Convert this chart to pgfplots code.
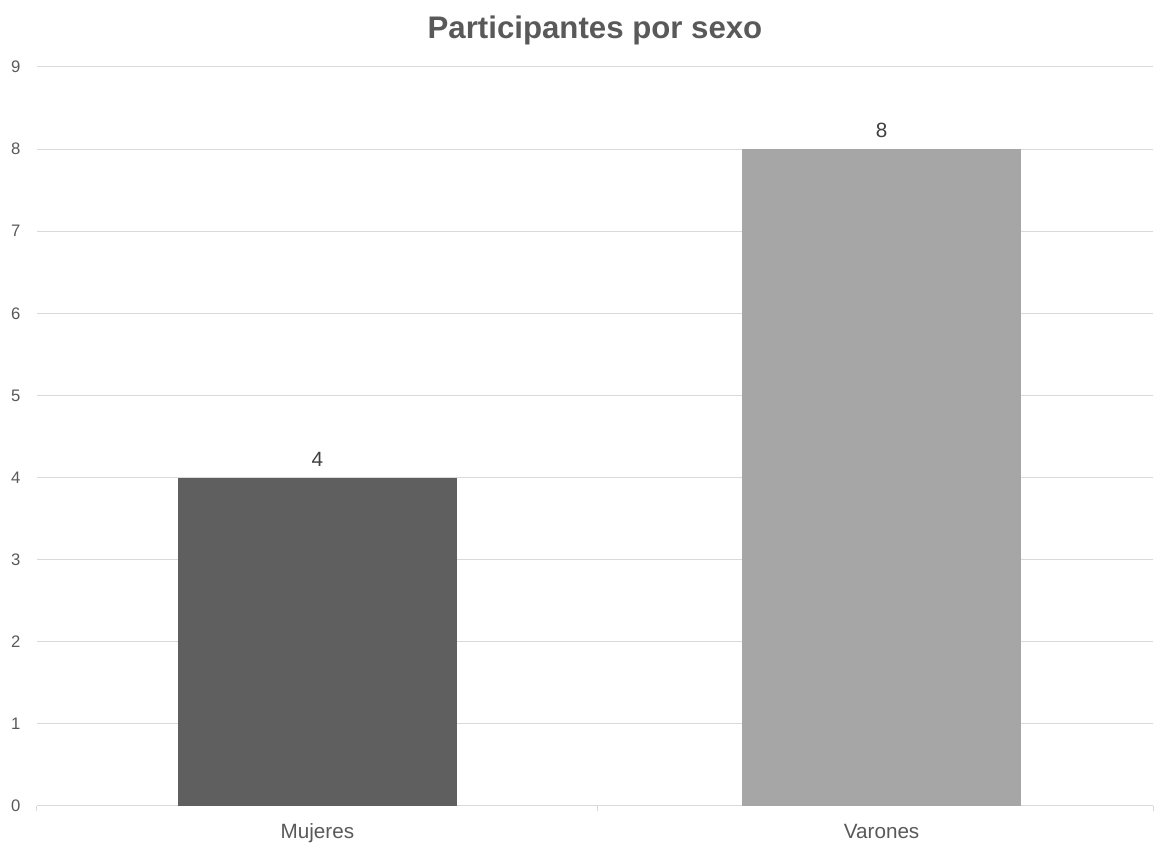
\documentclass[border=0pt]{standalone}
\usepackage{fontspec}
\setmainfont{Liberation Sans}
\usepackage{pgfplots}
\pgfplotsset{compat=1.18}
\definecolor{txt}{HTML}{595959}
\definecolor{grd}{HTML}{D9D9D9}
\definecolor{barA}{HTML}{5F5F5F}
\definecolor{barB}{HTML}{A6A6A6}
\begin{document}
\begin{tikzpicture}
\path[use as bounding box] (-27.75pt,-29.25pt) rectangle (837.75pt,604.5pt);
\begin{axis}[
  at={(0,0)}, anchor=south west,
  scale only axis, width=837pt, height=554.25pt,
  xmin=-0.497, xmax=1.481, ymin=0, ymax=9,
  ytick={0,1,...,9},
  xtick={0,1}, xticklabels={Mujeres,Varones},
  minor xtick={-0.497,0.497,1.481},
  ymajorgrids, major grid style={grd, line width=0.75pt},
  axis line style={draw=none},
  x axis line style={draw=grd, line width=0.75pt},
  axis x line*=bottom, axis y line*=left,
  y axis line style={draw=none},
  major tick length=0pt, minor tick length=4pt,
  tick align=outside,
  minor tick style={grd, line width=0.75pt},
  major tick style={draw=none},
  /pgf/number format/assume math mode=true,
  yticklabel style={font=\fontsize{12.5}{14}\selectfont, text=txt, xshift=-9pt},
  xticklabel style={font=\fontsize{15.5}{18}\selectfont, text=txt, anchor=base, yshift=-24.75pt},
  title={Participantes por sexo},
  title style={font=\fontsize{23.4}{27}\selectfont\bfseries, text=txt, at={(0.5,1)}, anchor=center, yshift=21.75pt},
  ybar, bar width=209.25pt, bar shift=0pt,
  nodes near coords,
  every node near coord/.append style={font=\fontsize{15.5}{18}\selectfont, text=black!75, yshift=5pt},
  clip=false,
]
\addplot[fill=barA, draw=none] coordinates {(0,4)};
\addplot[fill=barB, draw=none] coordinates {(1,8)};
\end{axis}
\end{tikzpicture}
\end{document}
